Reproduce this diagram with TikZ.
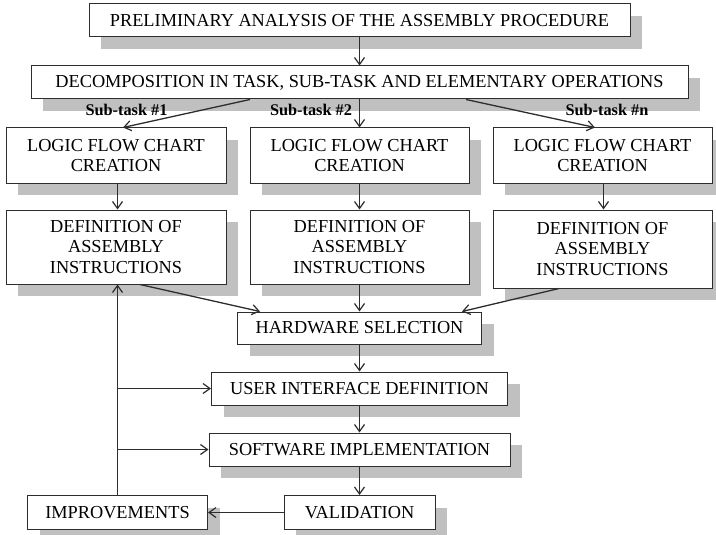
\documentclass[tikz,border=0pt]{standalone}
\usepackage{fontspec}
\setmainfont{Liberation Serif}
\usetikzlibrary{arrows.meta,shadows,calc}
\definecolor{shade}{RGB}{192,192,192}
\definecolor{ln}{RGB}{45,45,45}
\begin{document}
\begin{tikzpicture}[x=1pt,y=-1pt,
  box/.style={draw=ln,line width=1pt,fill=white,inner sep=0pt,align=center,
    font=\fontsize{18.3}{20.3}\selectfont,
    general shadow={fill=shade,shadow xshift=12pt,shadow yshift=-12pt}},
  arr/.style={draw=ln,line width=1.3pt,-{Straight Barb[length=7pt,width=10pt,line width=1.2pt]}},
  lab/.style={font=\bfseries\fontsize{16.3}{18}\selectfont,inner sep=0pt}]
\useasboundingbox (0,0) rectangle (716,535);
% boxes
\node[box,minimum width=541pt,minimum height=33pt] (pre) at (359.5,20.5) {PRELIMINARY ANALYSIS OF THE ASSEMBLY PROCEDURE};
\node[box,minimum width=657pt,minimum height=33pt] (dec) at (359.5,82.5) {DECOMPOSITION IN TASK, SUB-TASK AND ELEMENTARY OPERATIONS};
\node[box,minimum width=220pt,minimum height=55pt] (lfc1) at (116,155.5) {LOGIC FLOW CHART\\CREATION};
\node[box,minimum width=219pt,minimum height=55pt] (lfc2) at (359.5,155.5) {LOGIC FLOW CHART\\CREATION};
\node[box,minimum width=219pt,minimum height=55pt] (lfc3) at (602.5,155.5) {LOGIC FLOW CHART\\CREATION};
\node[box,minimum width=220pt,minimum height=74pt] (def1) at (116,247) {DEFINITION OF\\ASSEMBLY\\INSTRUCTIONS};
\node[box,minimum width=219pt,minimum height=74pt] (def2) at (359.5,247) {DEFINITION OF\\ASSEMBLY\\INSTRUCTIONS};
\node[box,minimum width=219pt,minimum height=78pt] (def3) at (602.5,249) {DEFINITION OF\\ASSEMBLY\\INSTRUCTIONS};
\node[box,minimum width=244pt,minimum height=32pt] (hw) at (359.5,328) {HARDWARE SELECTION};
\node[box,minimum width=296pt,minimum height=33pt] (ui) at (359.5,388.5) {USER INTERFACE DEFINITION};
\node[box,minimum width=301pt,minimum height=33pt] (sw) at (359.5,449.5) {SOFTWARE IMPLEMENTATION};
\node[box,minimum width=151pt,minimum height=34pt] (val) at (359.5,512.5) {VALIDATION};
\node[box,minimum width=180pt,minimum height=34pt] (imp) at (117.5,512.5) {IMPROVEMENTS};
% labels
\node[lab] (l1) at (126.5,110) {Sub-task \#1};
\node[lab] (l2) at (311,110) {Sub-task \#2};
\node[lab] (l3) at (607,110) {Sub-task \#n};
% connectors
\draw[arr] (pre.south) -- (dec.north);
\draw[arr] (dec.south -| 250,0) -- (lfc1.north -| 123,0);
\draw[arr] (dec.south) -- (lfc2.north);
\draw[arr] (dec.south -| 466,0) -- (lfc3.north -| 595,0);
\draw[arr] (lfc1.south -| 117.5,0) -- (def1.north -| 117.5,0);
\draw[arr] (lfc2.south) -- (def2.north);
\draw[arr] (lfc3.south -| 603.5,0) -- (def3.north -| 603.5,0);
\draw[arr] (def1.south -| 140,0) -- (hw.north -| 260,0);
\draw[arr] (def2.south) -- (hw.north);
\draw[arr] (def3.south -| 559,0) -- (hw.north -| 462,0);
\draw[arr] (hw.south) -- (ui.north);
\draw[arr] (ui.south) -- (sw.north);
\draw[arr] (sw.south) -- (val.north);
\draw[arr] (val.west) -- (imp.east);
\draw[arr] (imp.north) -- (def1.south -| imp.north);
\draw[arr] (imp.north |- ui.west) -- (ui.west);
\draw[arr] (imp.north |- sw.west) -- (sw.west);
\end{tikzpicture}
\end{document}
